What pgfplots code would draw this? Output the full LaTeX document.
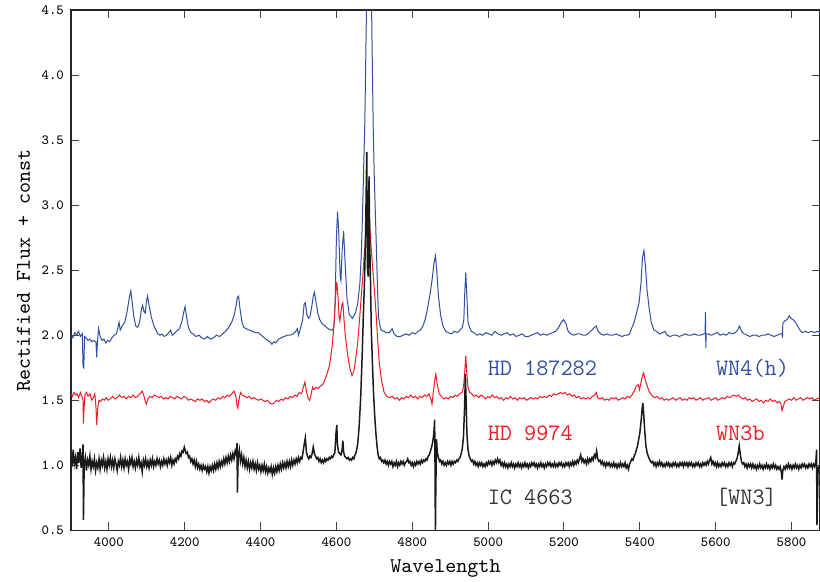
\documentclass[border=0pt]{standalone}
\usepackage{pgfplots}
\pgfplotsset{compat=1.18}
\usetikzlibrary{calc}
\definecolor{wnblue}{HTML}{2F4FA2}
\definecolor{wnred}{HTML}{EE1C25}
\definecolor{wnblack}{HTML}{1A1A1A}
\newcommand{\annfont}{\ttfamily\fontsize{11.8}{13}\selectfont}

\begin{document}
\begin{tikzpicture}
\begin{axis}[name=ax,scale only axis,width=375pt,height=260.5pt,
 xmin=3900,xmax=5875,ymin=0.5,ymax=4.5,
 xtick={4000,4200,...,5800},ytick={0.5,1,...,4.5},
 tick align=inside,major tick length=4pt,
 tick style={black!75,line width=0.5pt},
 axis line style={black!85,line width=0.6pt},
 ticklabel style={font=\ttfamily\fontsize{7}{8}\selectfont},
 /pgf/number format/assume math mode=true,
 xticklabel style={/pgf/number format/set thousands separator={}},
 yticklabel style={/pgf/number format/.cd,fixed,fixed zerofill,precision=1},
 xlabel={Wavelength},ylabel={Rectified Flux + const},
 label style={font=\ttfamily\fontsize{10.5}{12}\selectfont},
 xlabel style={at={(axis description cs:0.5,0)},anchor=base,yshift=-21pt},
 ylabel style={at={(axis description cs:0,0.5)},rotate=0,anchor=base,yshift=20.5pt},
 clip=true]

% HD 187282 (+1.0)
\addplot[wnblue,line width=0.5pt] coordinates {
(3900,2.00) (3905,1.98) (3910,2.02) (3915,2.00) (3920,2.03) (3925,1.99) (3930,2.01) (3932,1.76) (3934,1.75) (3936,1.99)
(3940,1.98) (3945,1.96) (3950,1.97) (3955,1.95) (3960,1.96) (3966,1.95) (3968,1.83) (3970,1.95) (3973,2.05) (3977,1.99)
(3982,1.96) (3987,1.97) (3992,1.94) (3997,1.96) (4002,1.95) (4008,1.98) (4014,2.00) (4020,2.01) (4024,2.06) (4027,2.10)
(4030,2.04) (4035,2.07) (4042,2.10) (4048,2.18) (4054,2.29) (4058,2.34) (4062,2.24) (4066,2.14) (4071,2.07) (4076,2.06)
(4081,2.10) (4086,2.20) (4089,2.23) (4093,2.18) (4096,2.17) (4099,2.26) (4102,2.30) (4106,2.23) (4112,2.14) (4118,2.08)
(4124,2.04) (4129,2.01) (4135,2.00) (4140,2.01) (4146,1.99) (4152,2.00) (4158,2.02) (4163,2.04) (4167,2.00) (4172,2.01)
(4178,2.03) (4186,2.05) (4192,2.10) (4197,2.17) (4201,2.22) (4205,2.14) (4210,2.06) (4216,2.02) (4222,2.01) (4230,1.99)
(4238,2.00) (4245,1.98) (4252,1.97) (4260,1.99) (4268,1.97) (4276,1.98) (4284,2.00) (4292,1.99) (4300,2.01) (4308,2.03)
(4316,2.06) (4324,2.10) (4330,2.15) (4335,2.22) (4339,2.29) (4342,2.30) (4346,2.20) (4351,2.10) (4356,2.06) (4362,2.05)
(4370,2.04) (4378,2.03) (4386,2.02) (4394,2.02) (4402,2.00) (4410,1.98) (4418,1.96) (4425,1.95) (4430,1.93) (4435,1.95)
(4440,1.94) (4447,1.97) (4454,1.98) (4462,1.99) (4470,2.00) (4478,2.00) (4486,2.01) (4493,2.03) (4497,2.05) (4500,2.00)
(4505,2.05) (4511,2.12) (4515,2.24) (4518,2.25) (4522,2.16) (4526,2.13) (4530,2.14) (4535,2.22) (4539,2.30) (4542,2.33)
(4546,2.26) (4551,2.17) (4556,2.12) (4562,2.09) (4570,2.07) (4578,2.05) (4585,2.04) (4590,2.04) (4594,2.07) (4597,2.30)
(4600,2.75) (4603,2.95) (4606,2.80) (4610,2.45) (4612,2.42) (4615,2.65) (4619,2.80) (4623,2.55) (4628,2.28) (4634,2.16)
(4642,2.13) (4650,2.17) (4656,2.24) (4662,2.40) (4666,2.65) (4669,2.95) (4672,3.30) (4675,3.65) (4679,4.45) (4683,4.95)
(4686,5.10) (4689,4.95) (4693,4.45) (4697,3.60) (4700,3.20) (4704,2.81) (4708,2.40) (4711,2.14) (4715,2.07) (4718,2.04)
(4725,2.03) (4732,2.02) (4740,2.02) (4747,2.05) (4752,2.01) (4760,1.99) (4768,1.99) (4776,2.00) (4784,2.01) (4792,2.00)
(4800,2.02) (4808,2.01) (4815,2.03) (4822,2.04) (4828,2.07) (4834,2.12) (4840,2.20) (4846,2.30) (4852,2.42) (4857,2.55)
(4861,2.61) (4865,2.48) (4869,2.30) (4875,2.15) (4881,2.07) (4888,2.03) (4895,2.02) (4903,2.01) (4911,2.03) (4919,2.02)
(4926,2.04) (4932,2.06) (4936,2.12) (4938,2.30) (4941,2.48) (4944,2.30) (4947,2.10) (4951,2.06) (4956,2.03) (4963,2.02)
(4970,2.00) (4978,2.01) (4986,2.00) (4994,2.02) (5002,2.01) (5010,2.00) (5018,2.03) (5026,2.01) (5034,2.00) (5042,2.01)
(5050,2.02) (5058,2.00) (5066,2.01) (5074,1.99) (5082,2.00) (5090,2.01) (5098,1.99) (5106,1.99) (5114,2.00) (5122,2.01)
(5130,2.02) (5138,2.00) (5146,2.01) (5154,2.00) (5162,2.01) (5170,2.02) (5178,2.03) (5186,2.06) (5193,2.10) (5199,2.12)
(5205,2.09) (5211,2.03) (5218,2.01) (5226,2.00) (5234,2.01) (5242,2.01) (5250,2.00) (5258,2.00) (5266,2.02) (5274,2.04)
(5280,2.06) (5285,2.07) (5290,2.03) (5297,2.01) (5305,2.00) (5313,2.01) (5321,2.00) (5329,2.00) (5337,2.01) (5345,2.00)
(5353,1.99) (5361,2.00) (5368,2.00) (5373,2.01) (5378,2.05) (5385,2.10) (5392,2.18) (5398,2.25) (5403,2.40) (5407,2.60)
(5411,2.65) (5415,2.52) (5419,2.35) (5424,2.22) (5430,2.10) (5437,2.04) (5444,2.03) (5452,2.01) (5460,2.02) (5466,2.03)
(5472,2.00) (5480,1.99) (5488,2.00) (5496,2.00) (5504,1.99) (5512,2.00) (5520,2.01) (5528,2.00) (5536,2.00) (5544,2.01)
(5552,2.00) (5560,2.00) (5568,2.01) (5572,2.01) (5573,2.18) (5574,1.90) (5575,2.01) (5580,2.01) (5588,2.00) (5596,2.01)
(5604,2.02) (5612,2.00) (5620,2.01) (5628,2.00) (5636,2.02) (5644,2.01) (5652,2.02) (5658,2.04) (5663,2.07) (5668,2.03)
(5675,2.01) (5683,2.00) (5690,1.99) (5698,2.00) (5706,2.00) (5714,1.99) (5722,2.00) (5730,2.00) (5738,2.01) (5746,2.00)
(5754,1.99) (5762,2.00) (5770,2.01) (5775,2.01) (5776,1.98) (5777,2.09) (5782,2.11) (5788,2.12) (5794,2.15) (5798,2.13)
(5804,2.12) (5810,2.10) (5816,2.07) (5822,2.04) (5828,2.02) (5836,2.03) (5844,2.02) (5852,2.03) (5860,2.02) (5868,2.03)
(5875,2.02)};

% HD 9974 (+0.5)
\addplot[wnred,line width=0.5pt] coordinates {
(3900,1.55) (3904,1.53) (3908,1.56) (3912,1.54) (3916,1.55) (3920,1.52) (3925,1.56) (3929,1.53) (3932,1.50) (3933,1.32)
(3935,1.45) (3937,1.54) (3941,1.56) (3945,1.53) (3950,1.55) (3955,1.50) (3959,1.52) (3963,1.55) (3966,1.45) (3968,1.31)
(3971,1.45) (3974,1.50) (3978,1.49) (3983,1.51) (3988,1.50) (3993,1.52) (3998,1.50) (4004,1.51) (4010,1.53) (4016,1.51)
(4022,1.52) (4028,1.54) (4034,1.52) (4040,1.53) (4046,1.51) (4052,1.53) (4058,1.52) (4064,1.54) (4070,1.52) (4076,1.53)
(4082,1.55) (4088,1.57) (4092,1.54) (4096,1.49) (4099,1.47) (4103,1.51) (4108,1.53) (4114,1.52) (4120,1.54) (4126,1.53)
(4132,1.52) (4138,1.53) (4144,1.51) (4150,1.52) (4156,1.51) (4162,1.53) (4168,1.52) (4174,1.51) (4180,1.53) (4186,1.52)
(4192,1.51) (4198,1.53) (4204,1.52) (4210,1.50) (4216,1.51) (4222,1.50) (4228,1.49) (4234,1.51) (4240,1.50) (4246,1.51)
(4252,1.49) (4258,1.50) (4264,1.48) (4270,1.50) (4276,1.51) (4282,1.50) (4288,1.52) (4294,1.51) (4300,1.53) (4306,1.52)
(4312,1.54) (4318,1.53) (4324,1.55) (4330,1.57) (4335,1.53) (4338,1.46) (4340,1.44) (4343,1.50) (4347,1.56) (4352,1.54)
(4358,1.53) (4364,1.52) (4370,1.53) (4376,1.51) (4382,1.52) (4388,1.51) (4394,1.50) (4400,1.51) (4406,1.50) (4412,1.49)
(4418,1.50) (4424,1.48) (4430,1.47) (4436,1.48) (4442,1.50) (4448,1.49) (4454,1.51) (4460,1.50) (4466,1.52) (4472,1.51)
(4478,1.53) (4484,1.52) (4490,1.54) (4496,1.53) (4502,1.56) (4508,1.55) (4513,1.60) (4517,1.64) (4521,1.57) (4525,1.52)
(4529,1.50) (4533,1.54) (4537,1.60) (4541,1.58) (4546,1.60) (4552,1.59) (4558,1.61) (4564,1.62) (4570,1.66) (4576,1.71)
(4582,1.77) (4588,1.90) (4592,2.02) (4596,2.20) (4599,2.35) (4601,2.41) (4604,2.30) (4607,2.14) (4609,2.11) (4612,2.18)
(4615,2.24) (4617,2.25) (4620,2.12) (4624,1.98) (4630,1.84) (4636,1.74) (4641,1.69) (4646,1.72) (4651,1.82) (4656,1.94)
(4661,2.12) (4665,2.28) (4669,2.43) (4673,2.60) (4677,2.74) (4682,2.85) (4687,2.89) (4691,2.70) (4696,2.50) (4700,2.35)
(4705,2.15) (4709,1.95) (4713,1.79) (4719,1.65) (4726,1.56) (4733,1.53) (4740,1.52) (4747,1.53) (4754,1.51) (4760,1.52)
(4766,1.50) (4772,1.52) (4778,1.51) (4784,1.53) (4790,1.52) (4796,1.54) (4802,1.52) (4808,1.53) (4814,1.51) (4820,1.53)
(4826,1.52) (4832,1.54) (4838,1.53) (4844,1.55) (4850,1.50) (4852,1.47) (4855,1.55) (4859,1.65) (4862,1.70) (4866,1.62)
(4871,1.55) (4877,1.53) (4883,1.51) (4889,1.52) (4895,1.51) (4901,1.53) (4907,1.52) (4913,1.54) (4919,1.53) (4925,1.55)
(4931,1.56) (4935,1.60) (4938,1.70) (4941,1.84) (4944,1.70) (4947,1.60) (4951,1.56) (4957,1.55) (4963,1.53) (4969,1.54)
(4975,1.52) (4981,1.54) (4987,1.53) (4993,1.51) (4999,1.53) (5005,1.52) (5011,1.54) (5017,1.52) (5023,1.53) (5029,1.51)
(5035,1.52) (5041,1.50) (5047,1.52) (5053,1.51) (5059,1.53) (5065,1.51) (5071,1.52) (5077,1.50) (5083,1.52) (5089,1.51)
(5095,1.52) (5101,1.50) (5107,1.51) (5113,1.52) (5119,1.51) (5125,1.52) (5131,1.51) (5137,1.53) (5143,1.52) (5149,1.53)
(5155,1.52) (5161,1.54) (5167,1.53) (5173,1.55) (5179,1.54) (5185,1.55) (5191,1.56) (5197,1.55) (5203,1.56) (5209,1.54)
(5215,1.55) (5221,1.53) (5227,1.54) (5233,1.52) (5239,1.53) (5245,1.51) (5251,1.52) (5257,1.51) (5263,1.52) (5269,1.51)
(5275,1.53) (5281,1.54) (5285,1.56) (5289,1.52) (5295,1.51) (5301,1.52) (5307,1.50) (5313,1.51) (5319,1.50) (5325,1.52)
(5331,1.51) (5337,1.52) (5343,1.50) (5349,1.51) (5355,1.52) (5361,1.51) (5367,1.53) (5373,1.52) (5379,1.54) (5385,1.57)
(5391,1.61) (5396,1.62) (5399,1.58) (5402,1.62) (5406,1.68) (5410,1.71) (5414,1.66) (5418,1.62) (5423,1.58) (5428,1.55)
(5434,1.53) (5440,1.52) (5446,1.53) (5452,1.51) (5458,1.52) (5464,1.50) (5470,1.51) (5476,1.50) (5482,1.51) (5488,1.52)
(5494,1.50) (5500,1.51) (5506,1.52) (5512,1.50) (5518,1.51) (5524,1.50) (5530,1.52) (5536,1.51) (5542,1.52) (5548,1.50)
(5554,1.51) (5560,1.52) (5566,1.50) (5570,1.51) (5576,1.51) (5582,1.52) (5588,1.50) (5594,1.51) (5600,1.52) (5606,1.50)
(5612,1.51) (5618,1.52) (5624,1.51) (5630,1.53) (5636,1.52) (5642,1.53) (5648,1.54) (5654,1.53) (5660,1.54) (5666,1.52)
(5672,1.51) (5678,1.52) (5684,1.50) (5690,1.51) (5696,1.49) (5702,1.50) (5708,1.51) (5714,1.49) (5720,1.50) (5726,1.48)
(5732,1.50) (5738,1.49) (5744,1.51) (5750,1.49) (5756,1.50) (5762,1.48) (5768,1.49) (5772,1.47) (5775,1.42) (5778,1.45)
(5782,1.49) (5788,1.50) (5794,1.51) (5800,1.50) (5806,1.52) (5812,1.50) (5818,1.51) (5824,1.52) (5830,1.50) (5836,1.51)
(5842,1.52) (5848,1.51) (5854,1.52) (5860,1.50) (5866,1.51) (5875,1.52)};

% IC 4663
\addplot[wnblack,line width=0.75pt] coordinates {
(3900,1.08) (3903,0.99) (3906,1.12) (3909,1.01) (3912,1.06) (3915,0.97) (3918,1.10) (3921,1.02) (3924,1.13) (3927,0.98)
(3930,1.08) (3932,1.16) (3933,0.58) (3935,1.00) (3938,1.06) (3941,0.96) (3944,1.04) (3947,1.00) (3950,1.07) (3953,0.97)
(3956,1.03) (3959,0.99) (3962,1.05) (3965,0.96) (3968,1.02) (3971,0.98) (3974,1.05) (3977,0.97) (3980,1.04) (3983,1.00)
(3986,1.06) (3989,0.98) (3992,1.03) (3995,0.97) (3998,1.05) (4001,1.00) (4004,1.06) (4007,0.99) (4010,1.04) (4013,0.98)
(4016,1.05) (4019,1.01) (4022,0.96) (4025,1.03) (4028,1.00) (4031,1.06) (4034,0.99) (4037,1.04) (4040,0.98) (4043,1.05)
(4046,1.00) (4049,1.03) (4052,0.97) (4055,1.05) (4058,1.01) (4061,1.06) (4064,0.99) (4067,1.03) (4070,0.98) (4073,1.04)
(4076,1.00) (4079,1.06) (4082,0.99) (4085,1.02) (4088,0.95) (4091,1.04) (4094,1.00) (4097,1.05) (4100,0.99) (4103,1.03)
(4106,0.98) (4109,1.04) (4112,1.00) (4115,1.05) (4118,0.99) (4121,1.03) (4124,1.00) (4127,1.05) (4130,1.01) (4133,1.04)
(4136,0.99) (4139,1.03) (4142,1.00) (4145,1.05) (4148,1.01) (4151,1.04) (4154,1.00) (4157,1.05) (4160,1.02) (4163,1.06)
(4166,1.00) (4169,1.04) (4172,1.01) (4175,1.05) (4178,1.03) (4181,1.07) (4184,1.05) (4187,1.09) (4190,1.07) (4193,1.11)
(4196,1.10) (4199,1.14) (4201,1.12) (4204,1.09) (4207,1.10) (4210,1.06) (4213,1.07) (4216,1.03) (4219,1.05) (4222,1.01)
(4225,1.04) (4228,0.99) (4231,1.03) (4234,0.98) (4237,1.01) (4240,0.97) (4243,1.00) (4246,0.96) (4249,1.00) (4252,0.97)
(4255,0.99) (4258,0.95) (4261,0.99) (4264,0.94) (4267,0.99) (4270,0.96) (4273,1.00) (4276,0.96) (4279,1.01) (4282,0.97)
(4285,1.02) (4288,0.98) (4291,1.03) (4294,0.99) (4297,1.03) (4300,1.00) (4303,1.05) (4306,1.01) (4309,1.06) (4312,1.02)
(4315,1.07) (4318,1.03) (4321,1.08) (4324,1.04) (4327,1.09) (4330,1.05) (4333,1.11) (4336,1.08) (4338,1.17) (4339,0.79)
(4341,1.06) (4344,1.12) (4347,1.03) (4350,1.08) (4353,1.01) (4356,1.06) (4359,0.99) (4362,1.04) (4365,0.98) (4368,1.03)
(4371,0.97) (4374,1.02) (4377,0.98) (4380,1.03) (4383,0.97) (4386,1.01) (4389,0.96) (4392,1.02) (4395,0.97) (4398,1.00)
(4401,0.95) (4404,1.00) (4407,0.96) (4410,1.01) (4413,0.95) (4416,0.99) (4419,0.94) (4422,0.98) (4425,0.95) (4428,0.99)
(4431,0.93) (4434,0.98) (4437,0.94) (4440,0.99) (4443,0.95) (4446,1.00) (4449,0.96) (4452,1.01) (4455,0.97) (4458,1.02)
(4461,0.98) (4464,1.02) (4467,0.98) (4470,1.03) (4473,0.99) (4476,1.03) (4479,0.99) (4482,1.04) (4485,1.00) (4488,1.04)
(4491,1.01) (4494,1.05) (4497,1.02) (4500,1.06) (4503,1.03) (4506,1.06) (4509,1.05) (4512,1.10) (4515,1.16) (4518,1.21)
(4521,1.10) (4524,1.07) (4527,1.05) (4530,1.07) (4533,1.06) (4536,1.09) (4539,1.14) (4542,1.09) (4545,1.07) (4548,1.05)
(4551,1.06) (4554,1.03) (4557,1.05) (4560,1.02) (4563,1.04) (4566,1.02) (4569,1.05) (4572,1.03) (4575,1.05) (4578,1.04)
(4581,1.06) (4584,1.05) (4587,1.07) (4590,1.06) (4593,1.08) (4596,1.10) (4599,1.25) (4601,1.31) (4603,1.15) (4606,1.10)
(4609,1.09) (4612,1.08) (4615,1.12) (4617,1.19) (4619,1.10) (4622,1.07) (4625,1.06) (4628,1.05) (4631,1.06) (4634,1.04)
(4637,1.05) (4640,1.04) (4643,1.06) (4646,1.05) (4649,1.08) (4652,1.10) (4656,1.16) (4660,1.30) (4664,1.52) (4668,1.85)
(4671,2.15) (4674,2.40) (4677,2.80) (4680,3.41) (4682,2.50) (4684,2.45) (4686,3.22) (4688,2.70) (4690,2.40) (4692,2.04)
(4695,1.78) (4698,1.55) (4701,1.38) (4704,1.25) (4707,1.15) (4710,1.08) (4713,1.05) (4716,1.06) (4719,1.03) (4722,1.04)
(4725,1.02) (4728,1.04) (4731,1.01) (4734,1.03) (4737,1.00) (4740,1.03) (4743,1.01) (4746,1.03) (4749,0.99) (4752,1.02)
(4755,1.00) (4758,1.03) (4761,0.99) (4764,1.02) (4767,1.00) (4770,1.03) (4773,1.01) (4776,1.03) (4779,1.00) (4782,1.02)
(4785,1.03) (4788,1.05) (4791,1.02) (4794,1.03) (4797,1.00) (4800,1.02) (4803,0.99) (4806,1.02) (4809,1.00) (4812,1.03)
(4815,1.01) (4818,1.03) (4821,1.01) (4824,1.04) (4827,1.02) (4830,1.04) (4833,1.03) (4836,1.05) (4839,1.04) (4842,1.07)
(4845,1.08) (4848,1.11) (4851,1.14) (4854,1.18) (4857,1.25) (4859,1.35) (4860,1.00) (4861,0.45) (4862,0.80) (4864,1.20)
(4866,1.10) (4869,1.06) (4872,1.03) (4875,1.04) (4878,1.01) (4881,1.03) (4884,1.00) (4887,1.02) (4890,1.00) (4893,1.03)
(4896,1.01) (4899,1.03) (4902,1.00) (4905,1.03) (4908,1.01) (4911,1.03) (4914,1.02) (4917,1.04) (4920,1.03) (4923,1.05)
(4926,1.06) (4929,1.09) (4932,1.13) (4935,1.22) (4938,1.45) (4940,1.70) (4942,1.50) (4944,1.25) (4947,1.12) (4950,1.07)
(4953,1.05) (4956,1.03) (4959,1.04) (4962,1.01) (4965,1.03) (4968,1.00) (4971,1.02) (4974,0.99) (4977,1.02) (4980,1.00)
(4983,1.02) (4986,0.99) (4989,1.01) (4992,0.99) (4995,1.02) (4998,1.00) (5001,1.03) (5004,1.01) (5007,1.03) (5010,1.00)
(5013,1.03) (5016,1.01) (5019,1.04) (5022,1.02) (5025,1.05) (5028,1.02) (5031,1.04) (5034,1.00) (5037,1.02) (5040,0.99)
(5043,1.02) (5046,0.99) (5049,1.01) (5052,0.98) (5055,1.01) (5058,0.99) (5061,1.02) (5064,0.99) (5067,1.01) (5070,0.98)
(5073,1.01) (5076,0.99) (5079,1.02) (5082,0.99) (5085,1.01) (5088,0.98) (5091,1.01) (5094,0.99) (5097,1.02) (5100,0.99)
(5103,1.01) (5106,0.98) (5109,1.01) (5112,0.99) (5115,1.02) (5118,1.00) (5121,1.02) (5124,0.99) (5127,1.01) (5130,0.98)
(5133,1.01) (5136,0.99) (5139,1.02) (5142,0.99) (5145,1.01) (5148,0.98) (5151,1.01) (5154,0.99) (5157,1.02) (5160,1.00)
(5163,1.02) (5166,0.99) (5169,1.01) (5172,0.99) (5175,1.02) (5178,0.99) (5181,1.01) (5184,0.99) (5187,1.02) (5190,1.00)
(5193,1.02) (5196,0.99) (5199,1.01) (5202,0.99) (5205,1.02) (5208,1.00) (5211,1.02) (5214,0.99) (5217,1.02) (5220,1.00)
(5223,1.03) (5226,1.00) (5229,1.03) (5232,1.01) (5235,1.04) (5238,1.02) (5241,1.05) (5244,1.08) (5247,1.03) (5250,1.05)
(5253,1.02) (5256,1.04) (5259,1.01) (5262,1.05) (5265,1.02) (5268,1.05) (5271,1.03) (5274,1.06) (5277,1.04) (5280,1.08)
(5283,1.06) (5286,1.11) (5289,1.05) (5292,1.03) (5295,1.04) (5298,1.01) (5301,1.03) (5304,1.00) (5307,1.02) (5310,0.99)
(5313,1.02) (5316,1.00) (5319,1.02) (5322,0.99) (5325,1.01) (5328,0.99) (5331,1.02) (5334,0.99) (5337,1.01) (5340,0.98)
(5343,1.01) (5346,0.99) (5349,1.02) (5352,0.99) (5355,1.01) (5358,0.99) (5361,1.02) (5364,0.98) (5367,1.00) (5370,0.97)
(5373,1.01) (5376,1.03) (5379,1.05) (5382,1.04) (5385,1.07) (5388,1.09) (5391,1.12) (5394,1.15) (5397,1.20) (5400,1.25)
(5403,1.33) (5406,1.43) (5408,1.48) (5410,1.40) (5413,1.26) (5416,1.15) (5419,1.10) (5422,1.07) (5425,1.05) (5428,1.03)
(5431,1.02) (5434,1.03) (5437,1.00) (5440,1.02) (5443,0.99) (5446,1.02) (5449,1.00) (5452,1.03) (5455,1.00) (5458,1.02)
(5461,0.99) (5464,1.01) (5467,0.99) (5470,1.02) (5473,1.00) (5476,1.02) (5479,0.99) (5482,1.01) (5485,0.99) (5488,1.02)
(5491,1.00) (5494,1.02) (5497,0.99) (5500,1.01) (5503,0.99) (5506,1.02) (5509,1.00) (5512,1.02) (5515,0.99) (5518,1.02)
(5521,1.00) (5524,1.02) (5527,0.99) (5530,1.02) (5533,1.00) (5536,1.02) (5539,0.99) (5542,1.01) (5545,0.99) (5548,1.02)
(5551,1.00) (5554,1.02) (5557,0.99) (5560,1.01) (5563,0.99) (5566,1.02) (5569,1.00) (5572,1.02) (5575,1.00) (5578,1.03)
(5581,1.01) (5584,1.04) (5587,1.06) (5590,1.01) (5593,1.03) (5596,1.00) (5599,1.02) (5602,0.99) (5605,1.02) (5608,0.99)
(5611,1.01) (5614,0.99) (5617,1.02) (5620,1.00) (5623,1.02) (5626,0.99) (5629,1.01) (5632,0.99) (5635,1.02) (5638,1.00)
(5641,1.02) (5644,0.99) (5647,1.02) (5650,1.01) (5653,1.03) (5656,1.05) (5659,1.09) (5662,1.15) (5665,1.08) (5668,1.03)
(5671,1.01) (5674,1.02) (5677,0.99) (5680,1.01) (5683,0.98) (5686,1.01) (5689,0.99) (5692,1.01) (5695,0.98) (5698,1.01)
(5701,0.98) (5704,1.00) (5707,0.97) (5710,1.00) (5713,0.98) (5716,1.01) (5719,0.98) (5722,1.00) (5725,0.97) (5728,1.00)
(5731,0.98) (5734,1.01) (5737,0.98) (5740,1.00) (5743,0.97) (5746,1.00) (5749,0.98) (5752,1.01) (5755,0.98) (5758,1.00)
(5761,0.97) (5764,0.99) (5767,0.97) (5770,0.99) (5773,0.95) (5775,0.89) (5777,0.96) (5780,0.99) (5783,0.97) (5786,1.00)
(5789,0.98) (5792,1.01) (5795,0.98) (5798,1.00) (5801,0.97) (5804,1.00) (5807,0.98) (5810,1.01) (5813,0.98) (5816,1.00)
(5819,0.97) (5822,1.00) (5825,0.98) (5828,1.01) (5831,0.99) (5834,1.01) (5837,0.98) (5840,1.00) (5843,0.98) (5846,1.01)
(5849,0.99) (5852,1.01) (5855,0.98) (5858,1.01) (5861,0.99) (5864,1.02) (5866,1.12) (5867,0.54) (5870,0.98) (5875,1.00)};

\node[wnblue,font=\annfont,anchor=base west,inner sep=0pt] at (axis cs:4998,1.69) {HD 187282};
\node[wnblue,font=\annfont,anchor=base west,inner sep=0pt] at (axis cs:5600,1.69) {WN4(h)};
\node[wnred,font=\annfont,anchor=base west,inner sep=0pt] at (axis cs:4998,1.19) {HD 9974};
\node[wnred,font=\annfont,anchor=base west,inner sep=0pt] at (axis cs:5600,1.19) {WN3b};
\node[black!80,font=\annfont,anchor=base west,inner sep=0pt] at (axis cs:4998,0.70) {IC 4663};
\node[black!80,font=\annfont,anchor=base west,inner sep=0pt] at (axis cs:5600,0.70) {[WN3]};
\end{axis}
\pgfresetboundingbox
\path[use as bounding box] ($(ax.south west)+(-35.5pt,-25.5pt)$) rectangle ($(ax.north east)+(0pt,5pt)$);
\end{tikzpicture}
\end{document}
